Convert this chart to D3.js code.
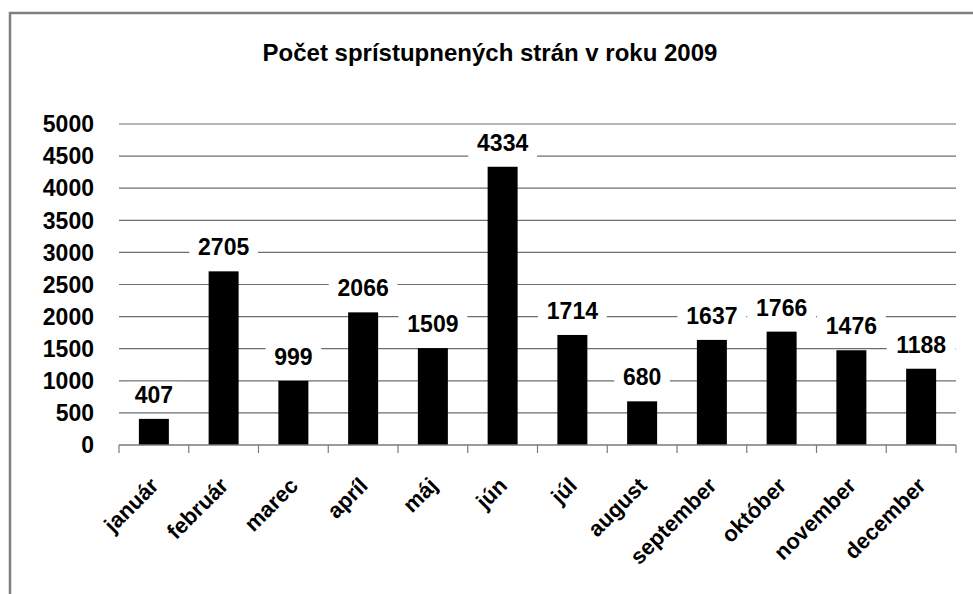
<!DOCTYPE html>
<html>
<head>
<meta charset="utf-8">
<script src="https://cdn.jsdelivr.net/npm/d3@7"></script>
<style>
  body { margin: 0; background: #fff; }
  text { font-family: "Liberation Sans", Arial, sans-serif; fill: #000; }
</style>
</head>
<body>
<svg id="chart" width="973" height="594"></svg>
<script>
    var months = ["január", "február", "marec", "apríl", "máj", "jún", "júl", "august", "september", "október", "november", "december"];
    var pages = [407, 2705, 999, 2066, 1509, 4334, 1714, 680, 1637, 1766, 1476, 1188];
    var yTicks = [0, 500, 1000, 1500, 2000, 2500, 3000, 3500, 4000, 4500, 5000];
    var title = "Počet sprístupnených strán v roku 2009";

    var svg = d3.select("#chart");

    // frame, runs off the right and bottom of the picture
    svg.append("rect")
      .attr("x", 10).attr("y", 13)
      .attr("width", 1000).attr("height", 700)
      .attr("fill", "none")
      .attr("stroke", "#808080")
      .attr("stroke-width", 2.5);

    svg.append("text")
      .attr("x", 490).attr("y", 61)
      .attr("text-anchor", "middle")
      .style("font-size", "24px")
      .style("font-weight", "bold")
      .text(title);

    var xScale = d3.scaleBand().domain(months).range([119, 956]).paddingInner(0.57).paddingOuter(0.285);
    var yScale = d3.scaleLinear().domain([0, 5000]).range([445, 124]);

    // gridlines
    svg.append("g").selectAll("line")
      .data(yTicks.slice(1))
      .join("line")
      .attr("x1", 119).attr("x2", 956)
      .attr("y1", d => yScale(d)).attr("y2", d => yScale(d))
      .attr("stroke", "#6e6e6e")
      .attr("stroke-width", 1.2);

    // y labels
    svg.append("g").selectAll("text")
      .data(yTicks)
      .join("text")
      .attr("x", 94)
      .attr("y", d => yScale(d))
      .attr("dy", "0.36em")
      .attr("text-anchor", "end")
      .style("font-size", "23px")
      .style("font-weight", "bold")
      .text(d => d);

    // bars
    svg.append("g").selectAll("rect")
      .data(pages)
      .join("rect")
      .attr("x", (d, i) => xScale(months[i]))
      .attr("y", d => yScale(d))
      .attr("width", xScale.bandwidth())
      .attr("height", d => yScale(0) - yScale(d))
      .attr("fill", "#000");

    // x axis line and ticks between categories
    var ax = svg.append("g");
    ax.append("line")
      .attr("x1", 119).attr("x2", 956)
      .attr("y1", 445).attr("y2", 445)
      .attr("stroke", "#7a7a7a").attr("stroke-width", 1.5);
    ax.selectAll(".tk")
      .data(d3.range(months.length + 1))
      .join("line")
      .attr("x1", i => 119 + i * (956 - 119) / months.length)
      .attr("x2", i => 119 + i * (956 - 119) / months.length)
      .attr("y1", 445).attr("y2", 453)
      .attr("stroke", "#7a7a7a").attr("stroke-width", 1.2);

    // value labels with white backing that breaks the gridlines
    var lab = svg.append("g").selectAll("g")
      .data(pages)
      .join("g")
      .attr("transform", (d, i) => "translate(" + (xScale(months[i]) + xScale.bandwidth() / 2) + "," + (yScale(d) - 16) + ")");
    lab.append("rect")
      .attr("x", d => -String(d).length * 6.6 - 8)
      .attr("y", -21)
      .attr("width", d => String(d).length * 13.2 + 16)
      .attr("height", 28)
      .attr("fill", "#fff");
    lab.append("text")
      .attr("text-anchor", "middle")
      .style("font-size", "23px")
      .style("font-weight", "bold")
      .text(d => d);

    // category labels
    svg.append("g").selectAll("text")
      .data(months)
      .join("text")
      .attr("transform", d => "translate(" + (xScale(d) + xScale.bandwidth() / 2 + 6) + ",487) rotate(-45)")
      .attr("text-anchor", "end")
      .style("font-size", "22px")
      .style("font-weight", "bold")
      .text(d => d);
</script>
</body>
</html>
